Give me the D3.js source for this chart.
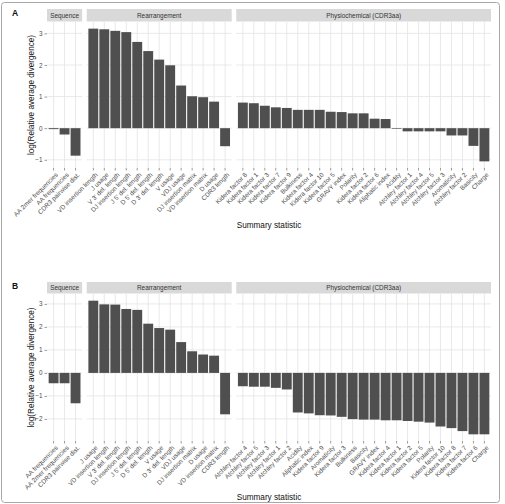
<!DOCTYPE html>
<html>
<head>
<meta charset="utf-8">
<script src="https://cdn.jsdelivr.net/npm/d3@7"></script>
<style>
  body { margin: 0; background: #fff; }
  svg text { font-family: "Liberation Sans", Arial, sans-serif; }
</style>
</head>
<body>
<div id="vis"></div>
<script>
const groups = ["Sequence", "Rearrangement", "Physiochemical (CDR3aa)"];

// panel A
const seqA_labels = ["AA 2mer frequencies", "AA frequencies", "CDR3 pairwise dist."];
const seqA_values = [-0.03, -0.2, -0.87];
const rearrA_labels = ["VD insertion length", "J usage", "V 3' del. length", "DJ insertion length", "J 5' del. length",
  "D 5' del. length", "D 3' del. length", "V usage", "VDJ usage", "DJ insertion matrix", "VD insertion matrix", "D usage", "CDR3 length"];
const rearrA_values = [3.15, 3.13, 3.08, 3.04, 2.73, 2.44, 2.17, 1.99, 1.35, 1.01, 0.98, 0.84, -0.57];
const physA_labels = ["Kidera factor 8", "Kidera factor 1", "Kidera factor 3", "Kidera factor 7", "Kidera factor 9", "Bulkiness",
  "Kidera factor 4", "Kidera factor 10", "Kidera factor 5", "GRAVY index", "Polarity", "Kidera factor 2", "Kidera factor 6",
  "Aliphatic index", "Acidity", "Atchley factor 1", "Atchley factor 4", "Atchley factor 5", "Atchley factor 3", "Aromaticity",
  "Atchley factor 2", "Basicity", "Charge"];
const physA_values = [0.81, 0.79, 0.71, 0.66, 0.64, 0.58, 0.58, 0.58, 0.52, 0.51, 0.47, 0.47, 0.30, 0.29, -0.02,
  -0.1, -0.1, -0.1, -0.1, -0.23, -0.23, -0.56, -1.05];

// panel B
const seqB_labels = ["AA frequencies", "AA 2mer frequencies", "CDR3 pairwise dist."];
const seqB_values = [-0.45, -0.45, -1.32];
const rearrB_labels = ["J usage", "VD insertion length", "V 3' del. length", "DJ insertion length", "J 5' del. length",
  "D 5' del. length", "V usage", "D 3' del. length", "VDJ usage", "DJ insertion matrix", "D usage", "VD insertion matrix", "CDR3 length"];
const rearrB_values = [3.14, 2.98, 2.97, 2.78, 2.74, 2.14, 1.95, 1.88, 1.34, 0.94, 0.80, 0.75, -1.8];
const physB_labels = ["Atchley factor 4", "Atchley factor 5", "Atchley factor 3", "Atchley factor 1", "Atchley factor 2",
  "Acidity", "Aliphatic index", "Kidera factor 9", "Aromaticity", "Kidera factor 3", "Bulkiness", "Basicity", "GRAVY index",
  "Kidera factor 4", "Kidera factor 1", "Kidera factor 2", "Kidera factor 5", "Polarity", "Kidera factor 10",
  "Kidera factor 8", "Kidera factor 7", "Kidera factor 6", "Charge"];
const physB_values = [-0.58, -0.6, -0.6, -0.65, -0.72, -1.72, -1.76, -1.84, -1.85, -1.91, -2.01, -2.03, -2.03,
  -2.06, -2.06, -2.09, -2.12, -2.16, -2.33, -2.4, -2.53, -2.67, -2.67];

const yTicks = [-2, -1, 0, 1, 2, 3];

const W = 505, H = 504;
const L = 47, R = 491, GAP = 4.6;
const BAR = "#4f4f4f", GRID = "#e3e3e3", TXT = "#4d4d4d";

const svg = d3.select("#vis").append("svg")
  .attr("width", W).attr("height", H);

svg.append("rect")
  .attr("x", 1.5).attr("y", 2.5).attr("width", 498).attr("height", 500)
  .attr("rx", 3)
  .attr("fill", "none").attr("stroke", "#a8a8a8");

function drawPanel(tag, top, bottom, stripTop, sets, titleY) {
  const allVals = sets.flatMap(s => s.values).concat([0]);
  const lo = d3.min(allVals), hi = d3.max(allVals);
  const pad = (hi - lo) * 0.05;
  const y = d3.scaleLinear().domain([lo - pad, hi + pad]).range([bottom, top]);
  const ticks = yTicks.filter(t => t >= lo - pad && t <= hi + pad);

  const g = svg.append("g");

  g.append("text")
    .attr("x", 12).attr("y", stripTop + 7)
    .attr("font-size", 8.5).attr("font-weight", "bold").attr("fill", "#111")
    .text(tag);

  const units = d3.sum(sets, s => s.labels.length + 0.2);
  const u = (R - L - GAP * (sets.length - 1)) / units;
  let x0 = L;

  sets.forEach((s, i) => {
    const w = (s.labels.length + 0.2) * u;
    const x = d3.scaleBand().domain(s.labels).range([x0, x0 + w])
      .paddingInner(0.1).paddingOuter(0.15);

    // strip
    g.append("rect")
      .attr("x", x0).attr("y", stripTop).attr("width", w).attr("height", top - stripTop - 0.5)
      .attr("fill", "#d9d9d9");
    g.append("text")
      .attr("x", x0 + w / 2).attr("y", (stripTop + top) / 2)
      .attr("dy", "0.35em").attr("text-anchor", "middle")
      .attr("font-size", 6.4).attr("fill", "#333")
      .text(groups[i]);

    // grid
    g.append("g").selectAll("line").data(ticks).join("line")
      .attr("x1", x0).attr("x2", x0 + w)
      .attr("y1", d => y(d)).attr("y2", d => y(d))
      .attr("stroke", GRID).attr("stroke-width", 0.8);
    g.append("g").selectAll("line").data(s.labels).join("line")
      .attr("x1", d => x(d) + x.bandwidth() / 2).attr("x2", d => x(d) + x.bandwidth() / 2)
      .attr("y1", top).attr("y2", bottom)
      .attr("stroke", GRID).attr("stroke-width", 0.8);

    // bars
    g.append("g").selectAll("rect").data(s.values).join("rect")
      .attr("x", (d, j) => x(s.labels[j]))
      .attr("width", x.bandwidth())
      .attr("y", d => y(Math.max(0, d)))
      .attr("height", d => Math.abs(y(d) - y(0)))
      .attr("fill", BAR);

    // x axis
    const ax = g.append("g")
      .attr("transform", `translate(0,${bottom})`)
      .call(d3.axisBottom(x).tickSize(2.5).tickSizeOuter(0));
    ax.select(".domain").remove();
    ax.selectAll(".tick line").attr("stroke", "#555").attr("stroke-width", 0.6);
    ax.selectAll(".tick text")
      .attr("font-size", 6.4).attr("fill", TXT)
      .attr("text-anchor", "end")
      .attr("x", 0).attr("y", 0)
      .attr("dy", "0.7em")
      .attr("transform", "translate(1.5,4) rotate(-45)");

    x0 += w + GAP;
  });

  // y axis
  const ay = g.append("g")
    .attr("transform", `translate(${L},0)`)
    .call(d3.axisLeft(y).tickValues(ticks).tickFormat(d3.format("d")).tickSize(2.5).tickPadding(2));
  ay.select(".domain").remove();
  ay.selectAll(".tick line").attr("stroke", "#555").attr("stroke-width", 0.6);
  ay.selectAll(".tick text").attr("font-size", 6.4).attr("fill", TXT)
    .text(d => d < 0 ? "\u2212" + Math.abs(d) : d);

  g.append("text")
    .attr("transform", `translate(34,${(top + bottom) / 2}) rotate(-90)`)
    .attr("text-anchor", "middle")
    .attr("font-size", 8.2).attr("fill", "#111")
    .text("log(Relative average divergence)");

  g.append("text")
    .attr("x", 269).attr("y", titleY)
    .attr("text-anchor", "middle")
    .attr("font-size", 8.2).attr("fill", "#111")
    .text("Summary statistic");
}

drawPanel("A", 22, 168, 9, [
  { labels: seqA_labels, values: seqA_values },
  { labels: rearrA_labels, values: rearrA_values },
  { labels: physA_labels, values: physA_values }
], 228);

drawPanel("B", 294, 441, 282, [
  { labels: seqB_labels, values: seqB_values },
  { labels: rearrB_labels, values: rearrB_values },
  { labels: physB_labels, values: physB_values }
], 500);
</script>
</body>
</html>
